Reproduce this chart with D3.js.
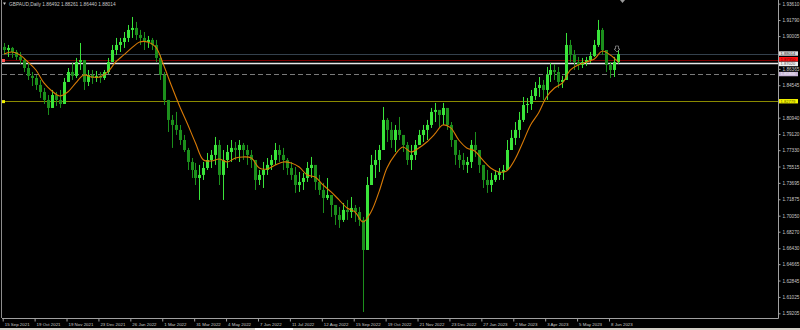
<!DOCTYPE html>
<html>
<head>
<meta charset="utf-8">
<script src="https://cdn.jsdelivr.net/npm/d3@7"></script>
<style>
	body { margin: 0; background: #000; overflow: hidden; }
</style>
</head>
<body>
<div class="price-chart"></div>
<script>
// Date labels under the chart, one every 24 daily bars.
var dateLabels = ['15 Sep 2021', '19 Oct 2021', '19 Nov 2021', '23 Dec 2021', '26 Jan 2022', '1 Mar 2022',
	'31 Mar 2022', '4 May 2022', '7 Jun 2022', '11 Jul 2022', '12 Aug 2022', '15 Sep 2022', '19 Oct 2022',
	'21 Nov 2022', '23 Dec 2022', '27 Jan 2023', '2 Mar 2023', '3 Apr 2023', '5 May 2023', '8 Jun 2023'];

// GBPAUD, one candle per three daily bars.
var highs = [
	1.8924, 1.8902, 1.8880, 1.8846, 1.8824, 1.8758, 1.8702, 1.8602, 1.8569, 1.8513,
	1.8424, 1.8346, 1.8402, 1.8380, 1.8402, 1.8535, 1.8646, 1.8702, 1.8758, 1.8924,
	1.8713, 1.8624, 1.8624, 1.8613, 1.8602, 1.8624, 1.8758, 1.8902, 1.8980, 1.8980,
	1.9046, 1.9124, 1.9213, 1.9158, 1.9069, 1.9046, 1.9002, 1.8980, 1.8958, 1.8791,
	1.8602, 1.8291, 1.8124, 1.8158, 1.8013, 1.7902, 1.7758, 1.7646, 1.7591, 1.7569,
	1.7602, 1.7702, 1.7735, 1.7880, 1.7846, 1.7735, 1.7791, 1.7846, 1.7824, 1.7846,
	1.7813, 1.7791, 1.7735, 1.7591, 1.7513, 1.7602, 1.7646, 1.7680, 1.7813, 1.7791,
	1.7758, 1.7646, 1.7602, 1.7546, 1.7491, 1.7480, 1.7602, 1.7658, 1.7513, 1.7458,
	1.7369, 1.7424, 1.7235, 1.7124, 1.7102, 1.7146, 1.7180, 1.7213, 1.7124, 1.7102,
	1.6991, 1.7435, 1.7680, 1.7735, 1.7791, 1.8213, 1.8091, 1.8046, 1.8013, 1.8102,
	1.7902, 1.7824, 1.7791, 1.7846, 1.7958, 1.8013, 1.8069, 1.8202, 1.8258, 1.8180,
	1.8258, 1.8202, 1.8046, 1.7846, 1.7735, 1.7702, 1.7658, 1.7846, 1.7935, 1.7735,
	1.7569, 1.7513, 1.7480, 1.7513, 1.7535, 1.7569, 1.7846, 1.7958, 1.8046, 1.8158,
	1.8324, 1.8313, 1.8402, 1.8491, 1.8546, 1.8513, 1.8658, 1.8702, 1.8691, 1.8658,
	1.8558, 1.9035, 1.8958, 1.8846, 1.8769, 1.8758, 1.8769, 1.8824, 1.8958, 1.9180,
	1.9091, 1.8846, 1.8713, 1.8769, 1.8846];
var lows = [
	1.8791, 1.8769, 1.8758, 1.8735, 1.8691, 1.8602, 1.8513, 1.8446, 1.8402, 1.8313,
	1.8246, 1.8124, 1.8202, 1.8224, 1.8202, 1.8324, 1.8491, 1.8513, 1.8535, 1.8624,
	1.8402, 1.8446, 1.8469, 1.8491, 1.8480, 1.8513, 1.8580, 1.8713, 1.8791, 1.8824,
	1.8869, 1.8935, 1.8980, 1.8958, 1.8902, 1.8846, 1.8869, 1.8846, 1.8713, 1.8513,
	1.8235, 1.7935, 1.7758, 1.7902, 1.7791, 1.7713, 1.7513, 1.7424, 1.7346, 1.7180,
	1.7402, 1.7513, 1.7535, 1.7569, 1.7346, 1.7180, 1.7535, 1.7602, 1.7624, 1.7602,
	1.7624, 1.7569, 1.7535, 1.7291, 1.7346, 1.7313, 1.7458, 1.7513, 1.7569, 1.7602,
	1.7513, 1.7458, 1.7402, 1.7258, 1.7269, 1.7291, 1.7380, 1.7424, 1.7291, 1.7235,
	1.7035, 1.7180, 1.6991, 1.6902, 1.6869, 1.6935, 1.6958, 1.6980, 1.6935, 1.6891,
	1.5935, 1.6624, 1.7346, 1.7424, 1.7491, 1.7846, 1.7824, 1.7758, 1.7713, 1.7846,
	1.7713, 1.7569, 1.7513, 1.7624, 1.7791, 1.7824, 1.7846, 1.7980, 1.8046, 1.7991,
	1.8013, 1.7958, 1.7769, 1.7569, 1.7535, 1.7513, 1.7480, 1.7535, 1.7658, 1.7480,
	1.7313, 1.7258, 1.7269, 1.7380, 1.7402, 1.7402, 1.7535, 1.7735, 1.7791, 1.7869,
	1.8046, 1.8146, 1.8180, 1.8291, 1.8324, 1.8291, 1.8291, 1.8491, 1.8513, 1.8424,
	1.8424, 1.8680, 1.8713, 1.8624, 1.8624, 1.8646, 1.8669, 1.8702, 1.8769, 1.8880,
	1.8791, 1.8602, 1.8535, 1.8546, 1.8691];
var closes = [
	1.8846, 1.8869, 1.8824, 1.8769, 1.8735, 1.8646, 1.8558, 1.8535, 1.8458, 1.8380,
	1.8291, 1.8202, 1.8346, 1.8291, 1.8246, 1.8491, 1.8602, 1.8558, 1.8713, 1.8735,
	1.8491, 1.8569, 1.8535, 1.8558, 1.8535, 1.8602, 1.8713, 1.8846, 1.8902, 1.8935,
	1.8980, 1.9069, 1.9091, 1.9013, 1.8980, 1.8935, 1.8958, 1.8902, 1.8758, 1.8569,
	1.8291, 1.8069, 1.8013, 1.7958, 1.7846, 1.7735, 1.7602, 1.7513, 1.7424, 1.7458,
	1.7535, 1.7624, 1.7680, 1.7791, 1.7458, 1.7624, 1.7713, 1.7758, 1.7735, 1.7791,
	1.7735, 1.7680, 1.7624, 1.7402, 1.7458, 1.7513, 1.7569, 1.7624, 1.7735, 1.7680,
	1.7624, 1.7535, 1.7458, 1.7346, 1.7380, 1.7424, 1.7535, 1.7569, 1.7380, 1.7291,
	1.7202, 1.7235, 1.7124, 1.7013, 1.6958, 1.7069, 1.7046, 1.7091, 1.7046, 1.6958,
	1.6624, 1.7346, 1.7569, 1.7624, 1.7735, 1.8069, 1.7958, 1.7846, 1.7958, 1.7902,
	1.7791, 1.7624, 1.7680, 1.7791, 1.7902, 1.7958, 1.8013, 1.8158, 1.8180, 1.8124,
	1.8202, 1.8013, 1.7846, 1.7680, 1.7624, 1.7569, 1.7602, 1.7791, 1.7735, 1.7569,
	1.7402, 1.7346, 1.7402, 1.7458, 1.7491, 1.7513, 1.7735, 1.7869, 1.7958, 1.8069,
	1.8235, 1.8246, 1.8335, 1.8424, 1.8458, 1.8402, 1.8569, 1.8624, 1.8602, 1.8491,
	1.8513, 1.8902, 1.8791, 1.8713, 1.8680, 1.8713, 1.8735, 1.8780, 1.8902, 1.9069,
	1.8846, 1.8680, 1.8624, 1.8713, 1.8801];
var firstOpen = 1.8880;

// Orange moving average, one value every second candle.
var maValues = [
	1.8802, 1.8824, 1.8791, 1.8713, 1.8624, 1.8480, 1.8391, 1.8335, 1.8380, 1.8480,
	1.8569, 1.8546, 1.8546, 1.8602, 1.8713, 1.8791, 1.8869, 1.8935, 1.8935, 1.8880,
	1.8680, 1.8446, 1.8224, 1.8024, 1.7813, 1.7624, 1.7613, 1.7635, 1.7602, 1.7646,
	1.7658, 1.7646, 1.7535, 1.7524, 1.7569, 1.7602, 1.7591, 1.7546, 1.7458, 1.7435,
	1.7346, 1.7269, 1.7180, 1.7091, 1.7046, 1.6935, 1.7046, 1.7269, 1.7535, 1.7680,
	1.7769, 1.7713, 1.7758, 1.7824, 1.7913, 1.8013, 1.7980, 1.7846, 1.7758, 1.7724,
	1.7624, 1.7535, 1.7491, 1.7502, 1.7624, 1.7813, 1.8013, 1.8146, 1.8324, 1.8424,
	1.8480, 1.8624, 1.8680, 1.8713, 1.8746, 1.8835, 1.8791, 1.8713];

// Price scale labels on the right.
var priceTicks = [1.93610, 1.91790, 1.90005, 1.86365, 1.84545, 1.80940, 1.79120, 1.77330, 1.75515,
	1.73695, 1.71875, 1.70050, 1.68270, 1.66430, 1.64665, 1.62845, 1.61025, 1.59205];

// Horizontal levels drawn on the chart, with their price tags.
var levelNames = ['bid', 'red', 'white', 'dashed', 'yellow'];
var levelPrices = [1.88014, 1.87350, 1.87020, 1.85800, 1.82779];

var symbolName = 'GBPAUD,Daily';
var headerQuote = ['1.86492', '1.88261', '1.86440', '1.88014'];

(function() {
	var textColor = '#c8c8c8',
		upColor = '#3ae43a',
		downColor = '#1c8f1c',
		maColor = '#d97a06',
		axisColor = '#a0a0a0',
		tickFontSize = '4.7px',
		tagFontSize = '4.1px',
		dateFontSize = '4.4px';
	// Tags of lines that lie close together are nudged apart a little (shift, in pixels).
	var levelStyles = {
		bid: {line: '#34414d', box: '#dcdcdc', text: '#303030', dash: null, width: 1, shift: -0.6},
		red: {line: '#7a0000', box: '#ff1010', text: '#700000', dash: null, width: 1, shift: -0.9},
		white: {line: '#e6e6e6', box: '#f0f0f0', text: '#505050', dash: null, width: 1.4, shift: 0.9},
		dashed: {line: '#7a7a7a', box: '#c6b4d6', text: '#f4f0f8', dash: '5,3', width: 1, shift: 0},
		yellow: {line: '#8a8a00', box: '#f4f400', text: '#5a5a00', dash: null, width: 1, shift: 0}
	};
	var plotLeft = 2,
		plotRight = 778,
		plotBottom = 318;

	var x = d3.scaleLinear().domain([0, 24 * 19]).range([2.7, 609]);
	var y = d3.scaleLinear().domain([1.59205, 1.94016]).range([313.3, 0]);

	var svg = d3.select('.price-chart').append('svg')
		.attr('width', 800)
		.attr('height', 330)
		.attr('font-family', 'Liberation Sans, Arial, sans-serif')
		.style('display', 'block')
		.style('background', '#000');

	svg.append('defs').append('clipPath')
		.attr('id', 'plot-clip')
		.append('rect')
		.attr('x', plotLeft)
		.attr('y', 0)
		.attr('width', plotRight - plotLeft)
		.attr('height', plotBottom);

	var plot = svg.append('g').attr('clip-path', 'url(#plot-clip)');

	// Level lines first, so the candles sit on top of them...
	levelNames.forEach(function(name, i) {
		var s = levelStyles[name];
		plot.append('line')
			.attr('x1', plotLeft)
			.attr('x2', plotRight)
			.attr('y1', Math.round(y(levelPrices[i])) + 0.5)
			.attr('y2', Math.round(y(levelPrices[i])) + 0.5)
			.attr('stroke', s.line)
			.attr('stroke-width', s.width)
			.attr('stroke-dasharray', s.dash);
	});

	// ...then the candles...
	var candles = closes.map(function(c, i) {
		return {
			bar: 3 * i + 1,
			open: i === 0 ? firstOpen : closes[i - 1],
			high: highs[i],
			low: lows[i],
			close: c
		};
	});
	var candle = plot.selectAll('.candle')
		.data(candles)
		.enter().append('g')
		.attr('class', 'candle');
	candle.append('line')
		.attr('x1', function(d) { return Math.round(x(d.bar)) + 0.5; })
		.attr('x2', function(d) { return Math.round(x(d.bar)) + 0.5; })
		.attr('y1', function(d) { return y(d.high); })
		.attr('y2', function(d) { return y(d.low); })
		.attr('stroke', function(d) { return d.close >= d.open ? upColor : downColor; })
		.attr('stroke-width', 1);
	candle.append('rect')
		.attr('x', function(d) { return Math.round(x(d.bar)) - 1; })
		.attr('width', 3)
		.attr('y', function(d) { return y(Math.max(d.open, d.close)); })
		.attr('height', function(d) { return Math.max(1, Math.abs(y(d.open) - y(d.close))); })
		.attr('fill', function(d) { return d.close >= d.open ? upColor : downColor; });

	// ...and the moving average.
	var ma = d3.line()
		.x(function(d, i) { return x(6 * i + 1); })
		.y(function(d) { return y(d); })
		.curve(d3.curveCatmullRom);
	plot.append('path')
		.datum(maValues)
		.attr('d', ma)
		.attr('fill', 'none')
		.attr('stroke', maColor)
		.attr('stroke-width', 1.1);

	// Small markers: left level dots, the trade arrow and the shift triangle.
	svg.append('rect').attr('x', 2).attr('y', y(levelPrices[1]) - 1).attr('width', 3).attr('height', 3).attr('fill', '#ff5050');
	svg.append('rect').attr('x', 2).attr('y', y(levelPrices[4]) - 1).attr('width', 3).attr('height', 3).attr('fill', '#f0f000');
	svg.append('path')
		.attr('d', 'M615.5,46 h3 v3 h1.5 l-3,3 l-3,-3 h1.5 z')
		.attr('fill', 'none')
		.attr('stroke', '#9a9a9a')
		.attr('stroke-width', 0.7);
	svg.append('path')
		.attr('d', 'M620,0 h5 l-2.5,3 z')
		.attr('fill', '#9a9a9a');

	// Frame of the chart window.
	svg.append('line').attr('x1', 1.5).attr('x2', 1.5).attr('y1', 0).attr('y2', plotBottom)
		.attr('stroke', '#8c8c8c').attr('stroke-width', 1);
	svg.append('line').attr('x1', plotRight + 0.5).attr('x2', plotRight + 0.5).attr('y1', 0).attr('y2', plotBottom + 0.5)
		.attr('stroke', axisColor).attr('stroke-width', 1);
	svg.append('line').attr('x1', plotLeft).attr('x2', plotRight + 0.5).attr('y1', plotBottom + 0.5).attr('y2', plotBottom + 0.5)
		.attr('stroke', axisColor).attr('stroke-width', 1);

	// Header with symbol and the last quote.
	svg.append('path').attr('d', 'M3,2.5 h3 l-1.5,2.5 z').attr('fill', textColor);
	svg.append('text')
		.attr('x', 9)
		.attr('y', 6)
		.attr('font-size', '4.8px')
		.attr('fill', textColor)
		.text(symbolName + '  ' + headerQuote.join(' '));

	// Price axis on the right.
	var yAxis = svg.append('g')
		.attr('transform', 'translate(' + (plotRight + 0.5) + ',0)')
		.call(d3.axisRight(y)
			.tickValues(priceTicks)
			.tickSize(2)
			.tickPadding(2)
			.tickFormat(d3.format('.5f')));
	yAxis.select('.domain').remove();
	yAxis.selectAll('line').attr('stroke', axisColor);
	yAxis.selectAll('text').attr('fill', textColor).attr('font-size', tickFontSize).attr('font-family', null);

	// Price tags for the level lines.
	levelNames.forEach(function(name, i) {
		var s = levelStyles[name];
		var cy = y(levelPrices[i]) + s.shift;
		svg.append('rect')
			.attr('x', plotRight + 1)
			.attr('y', cy - 2.1)
			.attr('width', 19)
			.attr('height', 4.4)
			.attr('fill', s.box);
		svg.append('text')
			.attr('x', plotRight + 2.5)
			.attr('y', cy)
			.attr('dy', '0.35em')
			.attr('font-size', tagFontSize)
			.attr('fill', s.text)
			.text(d3.format('.5f')(levelPrices[i]));
	});

	// Date axis at the bottom.
	var xAxis = svg.append('g')
		.attr('transform', 'translate(0,' + (plotBottom + 0.5) + ')')
		.call(d3.axisBottom(x)
			.tickValues(dateLabels.map(function(d, i) { return 24 * i; }))
			.tickSize(3)
			.tickPadding(1)
			.tickFormat(function(d, i) { return dateLabels[i]; }));
	xAxis.select('.domain').remove();
	xAxis.selectAll('line').attr('stroke', axisColor);
	xAxis.selectAll('text')
		.attr('fill', textColor)
		.attr('font-size', dateFontSize)
		.attr('font-family', null)
		.attr('text-anchor', 'start')
		.attr('x', 1.5);

	// Strip of the window tab bar along the bottom edge.
	svg.append('rect').attr('x', 0).attr('y', 328).attr('width', 800).attr('height', 2).attr('fill', '#d4d0c8');
	svg.append('rect').attr('x', 255).attr('y', 328).attr('width', 38).attr('height', 2).attr('fill', '#ffffff');
})();
</script>
</body>
</html>
